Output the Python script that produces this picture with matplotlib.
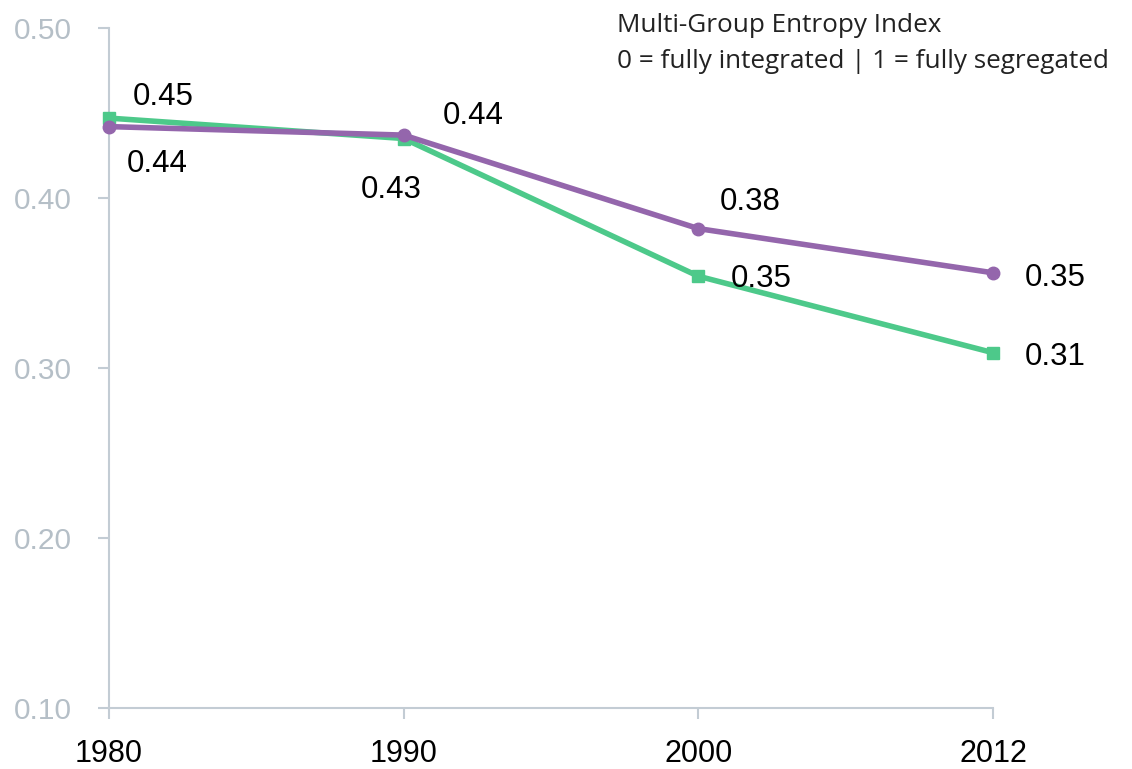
import matplotlib.pyplot as plt

# Multi-Group Entropy Index, two series
years = ["1980", "1990", "2000", "2012"]
green_vals = [0.447, 0.435, 0.354, 0.309]
purple_vals = [0.442, 0.437, 0.382, 0.356]
green_labels = ["0.45", "0.43", "0.35", "0.31"]
purple_labels = ["0.44", "0.44", "0.38", "0.35"]
yticks = [0.10, 0.20, 0.30, 0.40, 0.50]

GREEN = "#4DC98A"
PURPLE = "#9466AC"
AXIS = "#C3CCD4"
TICKTXT = "#B5BFC7"

plt.rcParams["font.family"] = ["Liberation Sans", "DejaVu Sans"]

fig = plt.figure(figsize=(11.32, 7.69), dpi=100)
ax = fig.add_axes([109 / 1132, 1 - 708 / 769, (993 - 109) / 1132, (708 - 28) / 769])

x = list(range(len(years)))
ax.plot(x, green_vals, color=GREEN, lw=4, marker="s", ms=9, zorder=3, clip_on=False)
ax.plot(x, purple_vals, color=PURPLE, lw=4, marker="o", ms=9, zorder=4, clip_on=False)

# label offsets (points) for each point
green_off = [(39, 15), (-9, -37), (45, -2), (45, -3)]
purple_off = [(35, -27), (50, 14), (37, 19), (45, -4)]
for i in x:
    ax.annotate(green_labels[i], (i, green_vals[i]), xytext=green_off[i],
                textcoords="offset points", ha="center", va="center", fontsize=22.5)
    ax.annotate(purple_labels[i], (i, purple_vals[i]), xytext=purple_off[i],
                textcoords="offset points", ha="center", va="center", fontsize=22.5)

ax.set_xlim(0, 3)
ax.set_ylim(0.10, 0.50)
ax.set_xticks(x)
ax.set_xticklabels(years)
ax.set_yticks(yticks)
ax.set_yticklabels([f"{v:.2f}" for v in yticks])

for s in ["top", "right"]:
    ax.spines[s].set_visible(False)
for s in ["left", "bottom"]:
    ax.spines[s].set_color(AXIS)
    ax.spines[s].set_linewidth(1.5)
    ax.spines[s].set_zorder(1)
ax.tick_params(axis="y", colors=AXIS, labelcolor=TICKTXT, labelsize=21.5,
               length=8, width=1.5, pad=19)
ax.tick_params(axis="x", colors=AXIS, labelcolor="black", labelsize=22,
               length=8, width=1.5, pad=14)

fig.text(617 / 1132, 1 - 25 / 769, "Multi-Group Entropy Index", fontsize=18.8,
         family=["Open Sans", "DejaVu Sans"], va="center", ha="left", color="#222222")
fig.text(617 / 1132, 1 - 61 / 769, "0 = fully integrated | 1 = fully segregated", fontsize=18.8,
         family=["Open Sans", "DejaVu Sans"], va="center", ha="left", color="#222222")

fig.savefig("out.png", dpi=100)
